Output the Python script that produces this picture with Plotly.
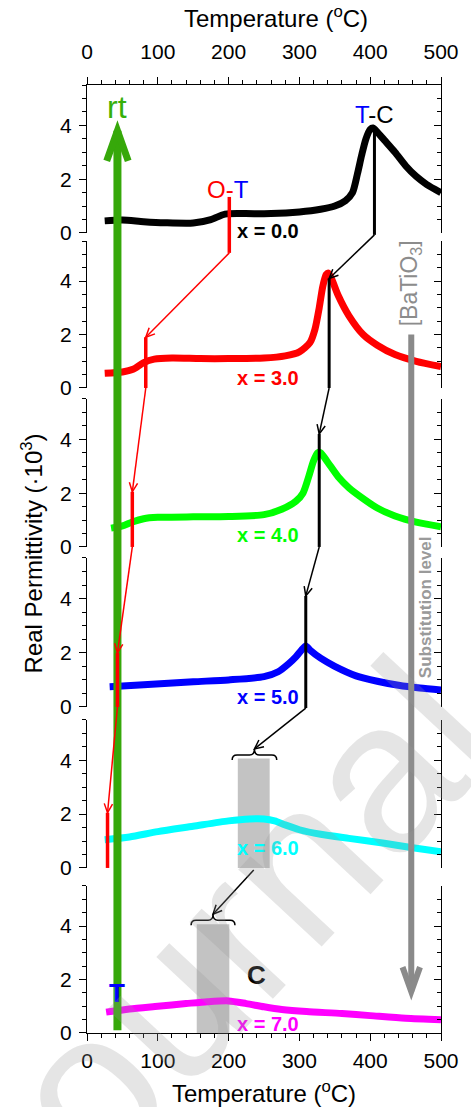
import math
import plotly.graph_objects as go

# ---------------- data ----------------
TEMP_TICKS = [0, 100, 200, 300, 400, 500]
PERM_TICKS = [0, 2, 4]
LABELS = ["x = 0.0", "x = 3.0", "x = 4.0", "x = 5.0", "x = 6.0", "x = 7.0"]
COLORS = ["#000000", "#ff0000", "#00ff00", "#0000ff", "#00ffff", "#ff00ff"]

T_x00 = [25, 50, 80, 110, 150, 175, 195, 220, 260, 300, 330, 350, 365, 375, 382, 388, 394, 400, 404, 410, 420, 435, 450, 465, 480, 500]
E_x00 = [0.45, 0.48, 0.42, 0.38, 0.37, 0.5, 0.7, 0.72, 0.72, 0.78, 0.88, 1.0, 1.2, 1.5, 2.2, 2.9, 3.5, 3.85, 3.9, 3.75, 3.45, 3.0, 2.5, 2.1, 1.8, 1.5]

T_x30 = [25, 50, 65, 80, 95, 120, 160, 200, 250, 280, 300, 315, 322, 328, 333, 338, 341, 346, 355, 370, 390, 410, 435, 465, 500]
E_x30 = [0.55, 0.6, 0.7, 0.95, 1.08, 1.12, 1.1, 1.1, 1.12, 1.2, 1.35, 1.7, 2.2, 3.0, 3.8, 4.25, 4.3, 4.05, 3.45, 2.7, 2.0, 1.6, 1.25, 1.0, 0.8]

T_x40 = [34, 50, 64, 80, 100, 150, 200, 250, 275, 295, 305, 313, 320, 326, 330, 340, 355, 370, 390, 410, 435, 465, 500]
E_x40 = [0.7, 0.78, 0.93, 1.05, 1.1, 1.12, 1.13, 1.2, 1.4, 1.7, 2.0, 2.6, 3.2, 3.5, 3.5, 3.15, 2.6, 2.2, 1.8, 1.45, 1.15, 0.92, 0.75]

T_x50 = [32, 80, 150, 200, 250, 270, 285, 295, 303, 309, 315, 330, 350, 380, 410, 440, 470, 500]
E_x50 = [0.75, 0.82, 0.93, 1.0, 1.12, 1.3, 1.6, 1.85, 2.1, 2.25, 2.1, 1.8, 1.5, 1.15, 0.95, 0.8, 0.7, 0.63]

T_x60 = [25, 60, 100, 150, 200, 230, 250, 265, 280, 300, 330, 370, 420, 460, 500]
E_x60 = [1.05, 1.15, 1.35, 1.55, 1.75, 1.82, 1.82, 1.75, 1.6, 1.42, 1.25, 1.1, 0.92, 0.75, 0.6]

T_x70 = [27, 60, 100, 140, 170, 200, 225, 250, 275, 310, 360, 400, 450, 500]
E_x70 = [0.78, 0.9, 1.0, 1.1, 1.17, 1.2, 1.1, 0.98, 0.88, 0.8, 0.73, 0.65, 0.55, 0.5]

SERIES_T = [T_x00, T_x30, T_x40, T_x50, T_x60, T_x70]
SERIES_E = [E_x00, E_x30, E_x40, E_x50, E_x60, E_x70]

# O-T transition markers (temperature, top, bottom) per panel
OT_T = [201, 83, 64, 43, 29]
OT_TOP = [1.34, 1.9, 2.05, 2.0, 2.05]
OT_BOT = [-0.74, 0.0, 0.0, 0.0, 0.0]
# T-C transition markers
TC_T = [406, 342, 328, 309]
TC_TOP = [3.95, 4.1, 4.2, 4.1]
TC_BOT = [-0.07, 0.0, 0.0, -0.04]
# broad (diffuse) region bands for x=6.0 and x=7.0
BAND_T0 = [213, 155]
BAND_T1 = [258, 201]
BAND_TOP = 4.07
RT_TEMP = 43

# ---------------- geometry ----------------
FIG_W, FIG_H = 471, 1107
M_L, M_R, M_T, M_B = 87, 23, 85, 74
PW = FIG_W - M_L - M_R
PH = FIG_H - M_T - M_B
YMAX = 5.5
XMAX = 500
DOMAINS = [
    [0.8439, 1.0],
    [0.6804, 0.8354],
    [0.5127, 0.6688],
    [0.3439, 0.5011],
    [0.1741, 0.3302],
    [0.0, 0.1551],
]
FONT = "Liberation Sans, Arial, sans-serif"


def paper(T, v, p):
    d0, d1 = DOMAINS[p]
    return T / XMAX, d0 + (d1 - d0) * v / YMAX


def to_px(xp, yp):
    return M_L + xp * PW, FIG_H - M_B - yp * PH


def to_pp(x, y):
    return (x - M_L) / PW, (FIG_H - M_B - y) / PH


fig = go.Figure()

for i in range(6):
    ax = "" if i == 0 else str(i + 1)
    fig.add_trace(go.Scatter(
        x=SERIES_T[i], y=SERIES_E[i], mode="lines",
        line=dict(color=COLORS[i], width=7, shape="spline", smoothing=0.7),
        xaxis="x" + ax, yaxis="y" + ax, hoverinfo="skip", showlegend=False))
    # dummy for right-hand mirrored axis
    fig.add_trace(go.Scatter(
        x=[0], y=[0], mode="markers", marker=dict(opacity=0),
        xaxis="x" + ax, yaxis="y" + str(i + 7), hoverinfo="skip", showlegend=False))

layout = dict(
    width=FIG_W, height=FIG_H,
    margin=dict(l=M_L, r=M_R, t=M_T, b=M_B),
    paper_bgcolor="white", plot_bgcolor="white",
    showlegend=False,
    font=dict(family=FONT, color="black"),
)

for i in range(6):
    ax = "" if i == 0 else str(i + 1)
    xa = dict(domain=[0, 1], range=[0, XMAX], anchor="y" + ax, showgrid=False, zeroline=False)
    if i == 0 or i == 5:
        xa.update(side="top" if i == 0 else "bottom", showline=True, linecolor="black", linewidth=1.2,
                  ticks="outside", ticklen=7, tickwidth=1.2, tickcolor="black",
                  tickvals=TEMP_TICKS, tickfont=dict(size=21, family=FONT),
                  ticklabelstandoff=10 if i == 0 else 2,
                  minor=dict(dtick=20, ticks="outside", ticklen=4, tickwidth=1.1, tickcolor="black"))
    else:
        xa.update(visible=False)
    layout["xaxis" + ax] = xa
    layout["yaxis" + ax] = dict(
        domain=DOMAINS[i], range=[0, YMAX], anchor="x" + ax, showgrid=False, zeroline=False,
        showline=True, linecolor="black", linewidth=1.2,
        ticks="outside", ticklen=7, tickwidth=1.2, tickcolor="black",
        tickvals=PERM_TICKS, tickfont=dict(size=21, family=FONT), ticklabelstandoff=3,
        minor=dict(dtick=0.5, ticks="outside", ticklen=4, tickwidth=1.1, tickcolor="black"))
    layout["yaxis" + str(i + 7)] = dict(
        overlaying="y" + ax, side="right", anchor="x" + ax, range=[0, YMAX],
        showgrid=False, zeroline=False, showline=True, linecolor="black", linewidth=1.2,
        ticks="inside", ticklen=7, tickwidth=1.2, tickcolor="black",
        tickvals=PERM_TICKS, showticklabels=False,
        minor=dict(dtick=0.5, ticks="inside", ticklen=4, tickwidth=1.1, tickcolor="black"))

fig.update_layout(**layout)

shapes = []
annots = []

# grey diffuse bands (below traces)
for k, p in enumerate([4, 5]):
    shapes.append(dict(type="rect", xref=f"x{p+1}", yref=f"y{p+1}",
                       x0=BAND_T0[k], x1=BAND_T1[k], y0=0, y1=BAND_TOP,
                       fillcolor="#c3c3c3", line=dict(width=0), layer="below"))


def line_p(a, b, color, width):
    shapes.append(dict(type="line", xref="paper", yref="paper",
                       x0=a[0], y0=a[1], x1=b[0], y1=b[1],
                       line=dict(color=color, width=width)))


def head_p(tail, tip, color, width, L=10, ang=25):
    x0, y0 = to_px(*tail)
    x1, y1 = to_px(*tip)
    dx, dy = x1 - x0, y1 - y0
    n = math.hypot(dx, dy)
    ux, uy = dx / n, dy / n
    pts = []
    for s in (1, -1):
        a = math.radians(ang * s)
        bx = -ux * math.cos(a) + uy * math.sin(a)
        by = -ux * math.sin(a) - uy * math.cos(a)
        pts.append(to_pp(x1 + L * bx, y1 + L * by))
    path = f"M {pts[0][0]},{pts[0][1]} L {tip[0]},{tip[1]} L {pts[1][0]},{pts[1][1]}"
    shapes.append(dict(type="path", xref="paper", yref="paper", path=path,
                       line=dict(color=color, width=width)))


def brace(T0, T1, v, p, color="black", width=1.5):
    a, yb = to_px(*paper(T0, v, p))
    b, _ = to_px(*paper(T1, v, p))
    m = (a + b) / 2
    pts = [(a, yb + 5), (a, yb), (a + 5, yb), (m - 5, yb), (m, yb), (m, yb - 6),
           (m, yb), (m + 5, yb), (b - 5, yb), (b, yb), (b, yb + 5)]
    q = [to_pp(*pt) for pt in pts]
    path = (f"M {q[0][0]},{q[0][1]} Q {q[1][0]},{q[1][1]} {q[2][0]},{q[2][1]} "
            f"L {q[3][0]},{q[3][1]} Q {q[4][0]},{q[4][1]} {q[5][0]},{q[5][1]} "
            f"Q {q[6][0]},{q[6][1]} {q[7][0]},{q[7][1]} "
            f"L {q[8][0]},{q[8][1]} Q {q[9][0]},{q[9][1]} {q[10][0]},{q[10][1]}")
    shapes.append(dict(type="path", xref="paper", yref="paper", path=path,
                       line=dict(color=color, width=width)))
    return to_pp(m, yb - 6)


# green "rt" arrow
rt_base = paper(RT_TEMP, 0.1, 5)
rt_tip = paper(RT_TEMP, 3.8, 0)
line_p(rt_base, rt_tip, "#36a80a", 8)
head_p(rt_base, rt_tip, "#36a80a", 7, L=32, ang=20)

# grey substitution arrow
sub_top = paper(458, 2.0, 1)
sub_tip = paper(458, 1.55, 5)
line_p(sub_top, sub_tip, "#8a8a8a", 6)
head_p(sub_top, sub_tip, "#8a8a8a", 6, L=26, ang=20)

# red O-T markers
for k in range(5):
    line_p(paper(OT_T[k], OT_BOT[k], k), paper(OT_T[k], OT_TOP[k], k), "#ff0000", 3.5)
    if k < 4:
        a = paper(OT_T[k], OT_BOT[k], k)
        b = paper(OT_T[k + 1], OT_TOP[k + 1], k + 1)
        line_p(a, b, "#ff0000", 1.5)
        head_p(a, b, "#ff0000", 1.5)

# black T-C markers
for k in range(4):
    line_p(paper(TC_T[k], TC_BOT[k], k), paper(TC_T[k], TC_TOP[k], k), "#000000", 3)
    if k < 3:
        a = paper(TC_T[k], TC_BOT[k], k)
        b = paper(TC_T[k + 1], TC_TOP[k + 1], k + 1)
        line_p(a, b, "#000000", 1.5)
        head_p(a, b, "#000000", 1.5)

# braces over diffuse bands
br5 = brace(BAND_T0[0] - 8, BAND_T1[0] + 10, 4.2, 4)
br6 = brace(BAND_T0[1] - 8, BAND_T1[1] + 8, 4.22, 5)
a = paper(TC_T[3], TC_BOT[3], 3)
line_p(a, br5, "#000000", 1.5)
head_p(a, br5, "#000000", 1.5)
a = paper((BAND_T0[0] + BAND_T1[0]) / 2, -0.08, 4)
line_p(a, br6, "#000000", 1.5)
head_p(a, br6, "#000000", 1.5)

fig.update_layout(shapes=shapes)

# series labels
LAB_V = [0.07, 0.37, 0.45, 0.37, 0.75, 0.34]
for i in range(6):
    ax = "" if i == 0 else str(i + 1)
    annots.append(dict(x=256, y=LAB_V[i], xref="x" + ax, yref="y" + ax, text=f"<b>{LABELS[i]}</b>",
                       showarrow=False, xanchor="center", yanchor="middle",
                       font=dict(size=20, color=COLORS[i], family=FONT)))

C = dict(showarrow=False, xanchor="center", yanchor="middle")
annots += [
    dict(x=406, y=4.39, xref="x", yref="y", **C,
         text="<span style='color:#0000ff'>T</span>-C", font=dict(size=24, family=FONT)),
    dict(x=199, y=1.6, xref="x", yref="y", **C,
         text="<span style='color:#ff0000'>O-</span><span style='color:#0000ff'>T</span>",
         font=dict(size=24, family=FONT)),
    dict(x=RT_TEMP, y=4.7, xref="x", yref="y", **C, text="rt",
         font=dict(size=32, color="#36b00a", family=FONT)),
    dict(x=RT_TEMP - 1, y=1.5, xref="x6", yref="y6", **C, text="<b>T</b>",
         font=dict(size=26, color="#0000ff", family=FONT)),
    dict(x=240, y=2.17, xref="x6", yref="y6", **C, text="<b>C</b>",
         font=dict(size=26, color="#000000", family=FONT)),
    dict(x=457, y=3.9, xref="x2", yref="y2", **C, textangle=-90,
         text="[BaTiO<sub>3</sub>]", font=dict(size=23, color="#8c8c8c", family=FONT)),
    dict(x=478, y=3.7, xref="x4", yref="y4", **C, textangle=-90,
         text="<b>Substitution level</b>", font=dict(size=17, color="#9a9a9a", family=FONT)),
    dict(x=-0.155, y=0.506, xref="paper", yref="paper", **C, textangle=-90,
         text="Real Permittivity (·10<sup>3</sup>)", font=dict(size=24, family=FONT)),
    dict(x=0.535, y=1.0717, xref="paper", yref="paper", **C,
         text="Temperature (<sup>o</sup>C)", font=dict(size=24, family=FONT)),
    dict(x=0.5, y=-0.0622, xref="paper", yref="paper", **C,
         text="Temperature (<sup>o</sup>C)", font=dict(size=24, family=FONT)),
    # watermark
    dict(x=0.3546, y=0.0823, xref="paper", yref="paper", **C, textangle=-47,
         text="Journal", font=dict(size=215, color="rgba(150,150,150,0.25)", family=FONT)),
]
fig.update_layout(annotations=annots)

fig.write_html("out.html", config={"displayModeBar": False},
               post_script="document.body.style.margin='0px';")
